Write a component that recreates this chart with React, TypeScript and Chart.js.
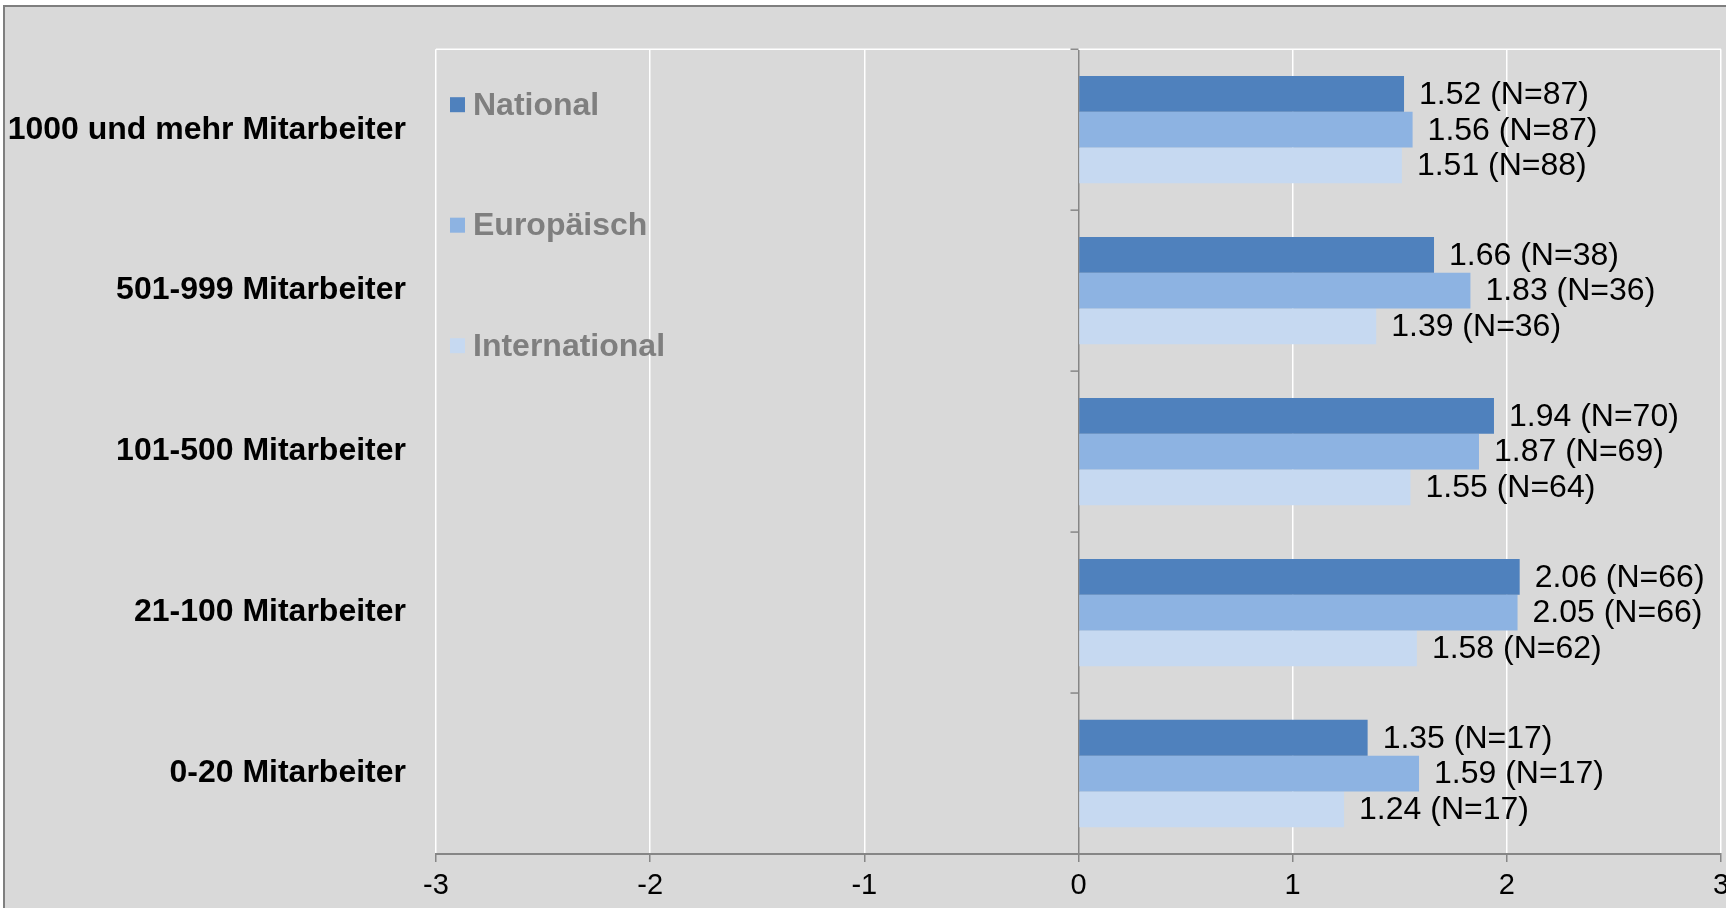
import React, { useEffect, useRef } from "react";
import { Chart, registerables } from "chart.js";

Chart.register(...registerables);

// Company size classes, top to bottom
const categories = [
  "1000 und mehr Mitarbeiter",
  "501-999 Mitarbeiter",
  "101-500 Mitarbeiter",
  "21-100 Mitarbeiter",
  "0-20 Mitarbeiter",
];

const seriesNames = ["National", "Europäisch", "International"];

// Mean scores per series
const nationalValues = [1.52, 1.66, 1.94, 2.06, 1.35];
const europeanValues = [1.56, 1.83, 1.87, 2.05, 1.59];
const internationalValues = [1.51, 1.39, 1.55, 1.58, 1.24];

// Sample sizes per series
const nationalN = [87, 38, 70, 66, 17];
const europeanN = [87, 36, 69, 66, 17];
const internationalN = [88, 36, 64, 62, 17];

const xTicks = [-3, -2, -1, 0, 1, 2, 3];

const seriesColors = ["#4F81BD", "#8DB3E2", "#C6D9F1"];

const FONT = '"Liberation Sans", Arial, sans-serif';

const sampleSizes = [nationalN, europeanN, internationalN];

// Value labels "x.xx (N=n)" to the right of every bar
const valueLabelPlugin = {
  id: "valueLabels",
  afterDatasetsDraw(chart: any) {
    const ctx = chart.ctx;
    ctx.save();
    ctx.font = `32px ${FONT}`;
    ctx.fillStyle = "#000000";
    ctx.textAlign = "left";
    ctx.textBaseline = "middle";
    chart.data.datasets.forEach((ds: any, di: number) => {
      const meta = chart.getDatasetMeta(di);
      meta.data.forEach((bar: any, i: number) => {
        const v = ds.data[i] as number;
        const text = `${v.toFixed(2)} (N=${sampleSizes[di][i]})`;
        ctx.fillText(text, bar.x + 15, bar.y + 1);
      });
    });
    ctx.restore();
  },
};

// Plot frame: white top edge, grey zero axis ticks at category boundaries
const frameAndAxisPlugin = {
  id: "frameAndAxis",
  beforeDatasetsDraw(chart: any) {
    const ctx = chart.ctx;
    const area = chart.chartArea;
    const xs = chart.scales.x;
    const ys = chart.scales.y;
    ctx.save();
    ctx.strokeStyle = "#FFFFFF";
    ctx.lineWidth = 1.5;
    ctx.beginPath();
    ctx.moveTo(area.left, area.top);
    ctx.lineTo(area.right, area.top);
    ctx.stroke();

    const x0 = xs.getPixelForValue(0);
    ctx.strokeStyle = "#868686";
    ctx.lineWidth = 1.5;
    const n = categories.length;
    const step = (area.bottom - area.top) / n;
    for (let i = 0; i <= n; i++) {
      const y = i === n ? area.bottom : ys.getPixelForValue(i) - step / 2;
      ctx.beginPath();
      ctx.moveTo(x0 - 8, y);
      ctx.lineTo(x0, y);
      ctx.stroke();
    }
    ctx.restore();
  },
};

// Legend drawn inside the plot, stacked down the left side
const insideLegendPlugin = {
  id: "insideLegend",
  afterDraw(chart: any) {
    const ctx = chart.ctx;
    const area = chart.chartArea;
    ctx.save();
    ctx.font = `bold 32px ${FONT}`;
    ctx.textAlign = "left";
    ctx.textBaseline = "middle";
    chart.data.datasets.forEach((ds: any, i: number) => {
      const cy = area.top + 55.5 + i * 120.5;
      ctx.fillStyle = ds.backgroundColor;
      ctx.fillRect(area.left + 14, cy - 7.5, 15, 15);
      ctx.fillStyle = "#7F7F7F";
      ctx.fillText(ds.label, area.left + 37, cy + 1);
    });
    ctx.restore();
  },
};

export default function App() {
  const canvasRef = useRef<HTMLCanvasElement | null>(null);

  useEffect(() => {
    if (!canvasRef.current) return;
    const valueSets = [nationalValues, europeanValues, internationalValues];
    const chart = new Chart(canvasRef.current, {
      type: "bar",
      data: {
        labels: categories,
        datasets: seriesNames.map((name, i) => ({
          label: name,
          data: valueSets[i],
          backgroundColor: seriesColors[i],
          borderWidth: 0,
          categoryPercentage: 0.667,
          barPercentage: 1.0,
        })),
      },
      options: {
        indexAxis: "y",
        responsive: false,
        animation: false,
        devicePixelRatio: 1,
        layout: {
          autoPadding: false,
          padding: { top: 46, right: 5, bottom: 0, left: 0 },
        },
        plugins: {
          legend: { display: false },
          tooltip: { enabled: false },
        },
        scales: {
          x: {
            type: "linear",
            min: -3,
            max: 3,
            afterBuildTicks(scale: any) {
              scale.ticks = xTicks.map((v) => ({ value: v }));
            },
            afterFit(scale: any) {
              scale.height = 54;
              scale.paddingLeft = 0;
              scale.paddingRight = 0;
            },
            grid: {
              color: (c: any) => (c.tick && c.tick.value === 0 ? "#868686" : "#FFFFFF"),
              lineWidth: 1.5,
              drawTicks: true,
              tickLength: 8,
              tickColor: "#868686",
              tickWidth: 1.5,
            },
            border: { display: true, color: "#868686", width: 2 },
            ticks: {
              color: "#000000",
              font: { family: FONT, size: 29 },
              padding: 7,
              maxRotation: 0,
              autoSkip: false,
              callback: (v: any) => String(v),
            },
          },
          y: {
            type: "category",
            afterFit(scale: any) {
              scale.width = 436;
            },
            grid: { display: false, drawTicks: false },
            border: { display: false },
            ticks: {
              color: "#000000",
              font: { family: FONT, size: 32, weight: "bold" },
              padding: 30,
              autoSkip: false,
            },
          },
        },
      },
      plugins: [frameAndAxisPlugin, valueLabelPlugin, insideLegendPlugin],
    } as any);
    return () => chart.destroy();
  }, []);

  return (
    <div
      style={{
        position: "fixed",
        left: 0,
        top: 0,
        width: 1726,
        height: 908,
        overflow: "hidden",
        background: "#FFFFFF",
      }}
    >
      <div
        style={{
          position: "absolute",
          left: 3,
          top: 5,
          width: 1800,
          height: 1000,
          border: "2px solid #7F7F7F",
          background: "#D9D9D9",
        }}
      />
      <canvas
        ref={canvasRef}
        width={1726}
        height={908}
        style={{ position: "absolute", left: 0, top: 0, width: 1726, height: 908 }}
      />
    </div>
  );
}
